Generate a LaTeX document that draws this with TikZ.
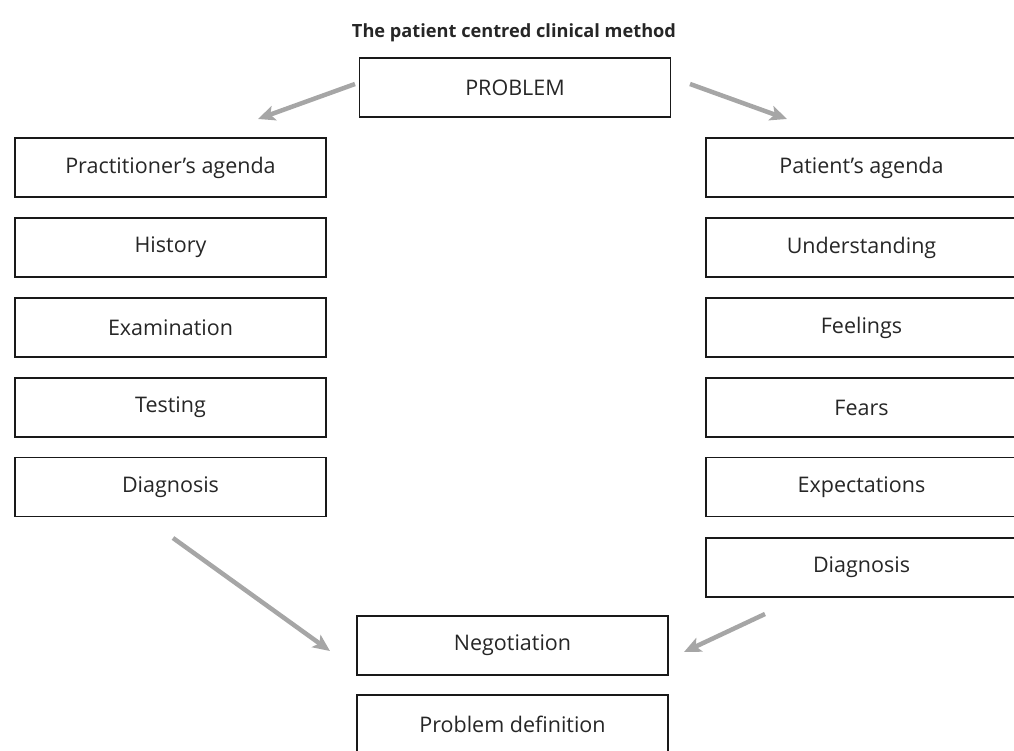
\documentclass[tikz,border=0pt]{standalone}
\usepackage{fontspec}
\setmainfont{Open Sans}
\usetikzlibrary{arrows.meta}
\begin{document}
\begin{tikzpicture}[x=1pt,y=-1pt,
  box/.style={draw=black!90,line width=1.5pt,minimum width=311pt,minimum height=59pt,inner sep=0pt,font=\fontsize{21.5}{24}\selectfont,text=black!85},
  garrow/.style={draw=black!35,line width=4.5pt,-{Stealth[length=17pt,width=15pt,inset=4pt]}}]
\useasboundingbox (0,0) rectangle (1014,751);
\clip (0,0) rectangle (1014,751);
\node[font=\bfseries\fontsize{18.2}{21}\selectfont,text=black!85] (title) at (514,33) {The patient centred clinical method};
\node[box] (problem) at (515,87.5) {PROBLEM};
\node[box] (pa) at (170.5,167.5) {Practitioner’s agenda};
\node[box] (hist) at (170.5,247.5) {History};
\node[box] (exam) at (170.5,327.5) {Examination};
\node[box] (test) at (170.5,407.5) {Testing};
\node[box] (diag1) at (170.5,487) {Diagnosis};
\node[box] (pat) at (861.5,167.5) {Patient’s agenda};
\node[box] (und) at (861.5,247.5) {Understanding};
\node[box] (feel) at (861.5,327.5) {Feelings};
\node[box] (fear) at (861.5,407.5) {Fears};
\node[box] (expe) at (861.5,487) {Expectations};
\node[box] (diag2) at (861.5,567.5) {Diagnosis};
\node[box] (nego) at (512.5,645.5) {Negotiation};
\node[box] (pdef) at (512.5,724.5) {Problem definition};
\coordinate (a1s) at (355,84); \coordinate (a1e) at (258,119);
\coordinate (a2s) at (690,84); \coordinate (a2e) at (787,119);
\coordinate (a3s) at (173,538); \coordinate (a3e) at (330,651);
\coordinate (a4s) at (765,614); \coordinate (a4e) at (684,652);
\draw[garrow] (a1s) -- (a1e);
\draw[garrow] (a2s) -- (a2e);
\draw[garrow] (a3s) -- (a3e);
\draw[garrow] (a4s) -- (a4e);
\end{tikzpicture}
\end{document}
